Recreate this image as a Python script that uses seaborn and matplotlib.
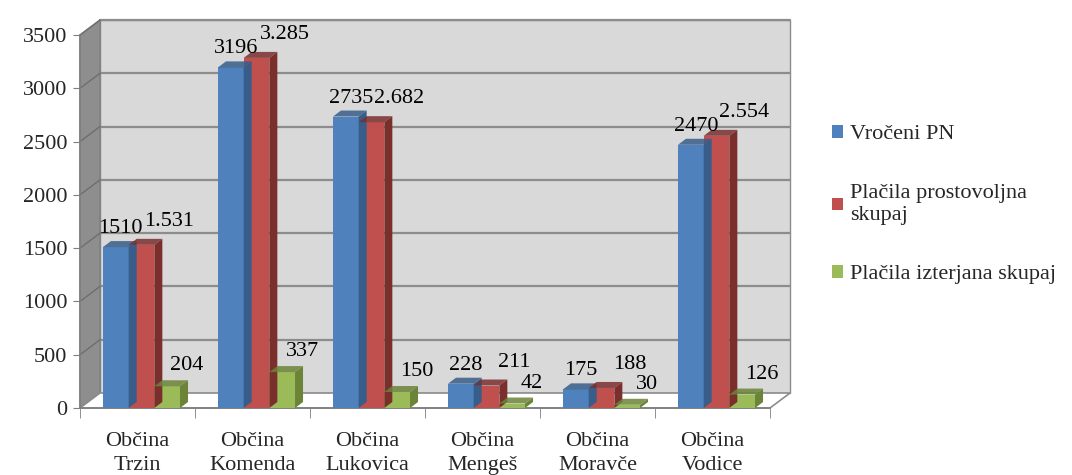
import numpy as np
import pandas as pd
import matplotlib
matplotlib.use("Agg")
import matplotlib.pyplot as plt
from matplotlib.patches import Polygon, Rectangle, Patch
import seaborn as sns

obcine = ["Občina\nTrzin", "Občina\nKomenda", "Občina\nLukovica",
          "Občina\nMengeš", "Občina\nMoravče", "Občina\nVodice"]
serije = ["Vročeni PN", "Plačila prostovoljna\nskupaj", "Plačila izterjana skupaj"]
vroceni = [1510, 3196, 2735, 228, 175, 2470]
prostovoljna = [1531, 3285, 2682, 211, 188, 2554]
izterjana = [204, 337, 150, 42, 30, 126]
lbl_vroceni = ["1510", "3196", "2735", "228", "175", "2470"]
lbl_prostovoljna = ["1.531", "3.285", "2.682", "211", "188", "2.554"]
lbl_izterjana = ["204", "337", "150", "42", "30", "126"]

barve = ["#4F81BD", "#C0504D", "#9BBB59"]
stranske = ["#385D8A", "#7A2F2D", "#6B8437"]

df = pd.DataFrame({
    "obcina": obcine * 3,
    "serija": [s for s in serije for _ in obcine],
    "vrednost": vroceni + prostovoljna + izterjana,
})

sns.set_style("white")
plt.rcParams["font.family"] = ["Liberation Serif", "DejaVu Serif"]
FS = 16

W, H = 1072, 475
fig = plt.figure(figsize=(W / 100, H / 100), dpi=100)
ax_left, ax_bottom, ax_w, ax_h = 80, 67, 690, 373
ax = fig.add_axes([ax_left / W, ax_bottom / H, ax_w / W, ax_h / H])
ax.set_facecolor("none")

sns.barplot(data=df, x="obcina", y="vrednost", hue="serija", palette=barve,
            width=0.67, saturation=1, linewidth=0, ax=ax, legend=False, zorder=3)
ax.set_xlim(-0.5, 5.5)
ax.set_ylim(0, 3500)

# pixel -> data units
ux = 6 / ax_w
uy = 3500 / ax_h
gx, gy = 20 * ux, 15 * uy   # depth of walls
bx, by = 8 * ux, 6 * uy     # depth of bars

# back wall, side wall, floor
ax.add_patch(Rectangle((-0.5 + gx, gy), 6, 3500, facecolor="#D9D9D9",
                       edgecolor="#8C8C8C", lw=1, zorder=0, clip_on=False))
for v in range(500, 3501, 500):
    ax.plot([-0.5 + gx, 5.5 + gx], [v + gy, v + gy], color="#8C8C8C", lw=1.6,
            zorder=1, clip_on=False)
side = Polygon([(-0.5, 0), (-0.5, 3500), (-0.5 + gx, 3500 + gy), (-0.5 + gx, gy)],
               closed=True, facecolor="#8E8E8E", edgecolor="#7F7F7F", lw=1,
               zorder=1.2, clip_on=False)
ax.add_patch(side)
for v in range(500, 3501, 500):
    ax.plot([-0.5, -0.5 + gx], [v, v + gy], color="#6E6E6E", lw=1,
            zorder=1.3, clip_on=False)
floor = Polygon([(-0.5, 0), (5.5, 0), (5.5 + gx, gy), (-0.5 + gx, gy)],
                closed=True, facecolor="white", edgecolor="#8C8C8C", lw=1.2,
                zorder=1.5, clip_on=False)
ax.add_patch(floor)

# 3D faces of bars (slightly shifted right like the perspective in the original)
shift = 4 * ux
for cont, sc in zip(ax.containers, stranske):
    for p in cont.patches:
        p.set_x(p.get_x() + shift)
        x0 = p.get_x()
        x1 = x0 + p.get_width()
        h = p.get_height()
        ax.add_patch(Polygon([(x1, 0), (x1, h), (x1 + bx, h + by), (x1 + bx, by)],
                             closed=True, facecolor=sc, edgecolor="none",
                             zorder=3, clip_on=False))
        ax.add_patch(Polygon([(x0, h), (x1, h), (x1 + bx, h + by), (x0 + bx, h + by)],
                             closed=True, facecolor=sc, edgecolor="none",
                             alpha=0.85, zorder=3, clip_on=False))

# data labels
offsets = [(5, 9), (28, 14), (20, 11)]
for cont, lbls, (ox, oy) in zip(ax.containers, [lbl_vroceni, lbl_prostovoljna, lbl_izterjana], offsets):
    for p, t in zip(cont.patches, lbls):
        ax.annotate(t, (p.get_x() + p.get_width() / 2, p.get_height()),
                    xytext=(ox, oy), textcoords="offset pixels",
                    ha="center", va="bottom", fontsize=FS, color="black",
                    zorder=5, annotation_clip=False)

# axes styling
ax.set_xlabel("")
ax.set_ylabel("")
ax.set_yticks(range(0, 3501, 500))
ax.tick_params(axis="y", labelsize=FS, length=5, color="#7F7F7F", left=True, pad=4)
ax.set_xticks(range(6))
ax.set_xticklabels(obcine, fontsize=FS, linespacing=1.35)
ax.tick_params(axis="x", length=0, pad=17)
ax.set_xticks(np.arange(-0.5, 6, 1), minor=True)
ax.tick_params(axis="x", which="minor", length=7, color="#7F7F7F", bottom=True)
for s in ["top", "right"]:
    ax.spines[s].set_visible(False)
for s in ["left", "bottom"]:
    ax.spines[s].set_color("#7F7F7F")
    ax.spines[s].set_linewidth(1.2)
    ax.spines[s].set_zorder(2)

handles = [Patch(facecolor=c, edgecolor="none") for c in barve]
fig.legend(handles, serije, loc="center left", bbox_to_anchor=(812 / W, 0.569),
           frameon=False, fontsize=FS, handlelength=0.5, handleheight=0.5,
           handletextpad=0.3, labelspacing=1.8)

fig.savefig("out.png", dpi=100)
